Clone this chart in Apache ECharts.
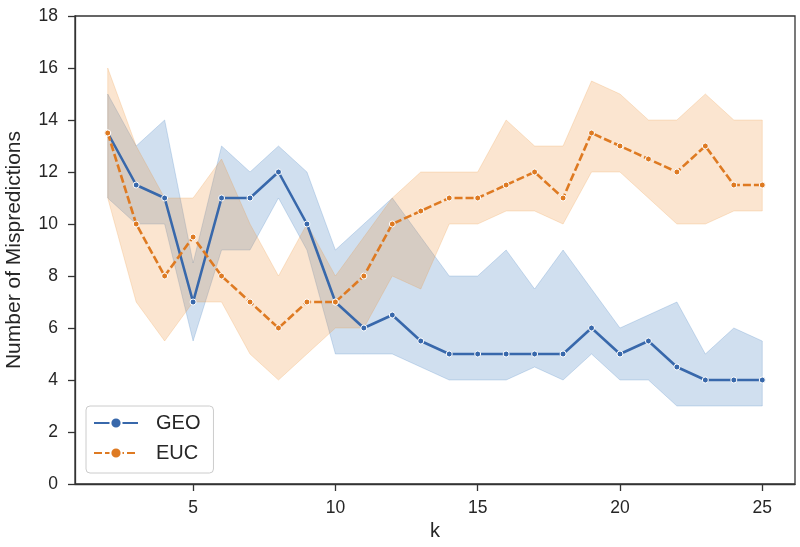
<!DOCTYPE html>
<html><head><meta charset="utf-8">
<script src="https://cdn.jsdelivr.net/npm/echarts@6/dist/echarts.min.js"></script>
<style>html,body{margin:0;padding:0;background:#fff}#c{width:800px;height:547px}</style>
</head><body><div id="c"></div>
<script>
// k values (x axis)
const kValues = [2,3,4,5,6,7,8,9,10,11,12,13,14,15,16,17,18,19,20,21,22,23,24,25];
// GEO: mean and confidence band
const geoMean = [13.5,11.5,11,7,11,11,12,10,7,6,6.5,5.5,5,5,5,5,5,6,5,5.5,4.5,4,4,4];
const geoLow  = [11,10,10,5.5,9,9,11,9,5,5,5,4.5,4,4,4,4.5,4,5,4,4,3,3,3,3];
const geoHigh = [15,13,14,8.5,13,12,13,12,9,10,11,9.5,8,8,9,7.5,9,7.5,6,6.5,7,5,6,5.5];
// EUC: mean and confidence band
const eucMean = [13.5,10,8,9.5,8,7,6,7,7,8,10,10.5,11,11,11.5,12,11,13.5,13,12.5,12,13,11.5,11.5];
const eucLow  = [11,7,5.5,7,7,5,4,5,6,6,8,7.5,10,10,10.5,10.5,10,12,12,11,10,10,10.5,10.5];
const eucHigh = [16,13,11,11,12.5,10,8,10,8,9.5,11,12,12,12,14,13,13,15.5,15,14,14,15,14,14];
// axis ticks
const xTickValues = [5,10,15,20,25];
const yMin = 0, yMax = 18, yStep = 2;

const FONT = "'Liberation Sans', Arial, sans-serif";
const TXT = '#262626';
const GEO_COLOR = '#3868ab';
const EUC_COLOR = '#de7a22';

function bandSeries(name, low, high, fill, stroke) {
  return {
    type: 'custom', name: name, silent: true, z: 1,
    data: kValues.map((x, i) => [x, low[i], high[i]]),
    encode: { x: 0, y: [1, 2] },
    renderItem: function (params, api) {
      if (params.dataIndex !== 0) return null;
      const pts = [];
      for (let i = 0; i < kValues.length; i++) pts.push(api.coord([kValues[i], high[i]]));
      for (let i = kValues.length - 1; i >= 0; i--) pts.push(api.coord([kValues[i], low[i]]));
      return { type: 'polygon', shape: { points: pts }, style: { fill: fill, stroke: stroke, lineWidth: 1 } };
    }
  };
}

function lineSeries(name, mean, color, dashed) {
  return {
    type: 'line', name: name, z: 5,
    data: kValues.map((x, i) => [x, mean[i]]),
    symbol: 'circle', symbolSize: 6, showSymbol: true,
    itemStyle: { color: color, borderColor: '#ffffff', borderWidth: 1 },
    lineStyle: { color: color, width: 2.6, type: dashed ? [8, 3] : 'solid' },
    emphasis: { disabled: true }
  };
}

const chart = echarts.init(document.getElementById('c'), null, { renderer: 'canvas' });
chart.setOption({
  animation: false,
  backgroundColor: '#ffffff',
  textStyle: { fontFamily: FONT, color: TXT },
  grid: { left: 75, right: 5, top: 16, bottom: 63, containLabel: false, outerBoundsMode: 'none',
          show: true, borderColor: '#333333', borderWidth: 1.3, backgroundColor: 'transparent' },
  legend: {
    data: ['GEO', 'EUC'], orient: 'vertical', left: 86, top: 406,
    itemWidth: 44, itemHeight: 14, itemGap: 10,
    padding: [7, 13, 10, 7],
    backgroundColor: 'rgba(255,255,255,0.8)', borderColor: '#cccccc', borderWidth: 1, borderRadius: 4,
    textStyle: { fontFamily: FONT, fontSize: 20, color: TXT, padding: [0, 0, 0, 13] }
  },
  xAxis: {
    type: 'value', min: 0.85, max: 26.15,
    name: 'k', nameLocation: 'middle', nameGap: 37,
    nameTextStyle: { fontFamily: FONT, fontSize: 20, color: TXT },
    axisLine: { show: true, lineStyle: { color: '#333333', width: 1.3 } },
    axisTick: { show: true, length: 7, lineStyle: { color: '#333333', width: 1.3 }, customValues: xTickValues },
    axisLabel: { fontFamily: FONT, fontSize: 17.5, color: TXT, margin: 15, customValues: xTickValues },
    splitLine: { show: false }
  },
  yAxis: {
    type: 'value', min: yMin, max: yMax, interval: yStep,
    name: 'Number of Mispredictions', nameLocation: 'middle', nameGap: 50,
    nameTextStyle: { fontFamily: FONT, fontSize: 21, color: TXT },
    axisLine: { show: true, lineStyle: { color: '#333333', width: 1.3 } },
    axisTick: { show: true, length: 7, lineStyle: { color: '#333333', width: 1.3 } },
    axisLabel: { fontFamily: FONT, fontSize: 17.5, color: TXT, margin: 17 },
    splitLine: { show: false }
  },
  series: [
    bandSeries('GEO band', geoLow, geoHigh, 'rgba(42,109,184,0.22)', 'rgba(42,109,184,0.2)'),
    bandSeries('EUC band', eucLow, eucHigh, 'rgba(236,138,40,0.22)', 'rgba(236,138,40,0.2)'),
    lineSeries('GEO', geoMean, GEO_COLOR, false),
    lineSeries('EUC', eucMean, EUC_COLOR, true)
  ]
});
</script>
</body></html>
